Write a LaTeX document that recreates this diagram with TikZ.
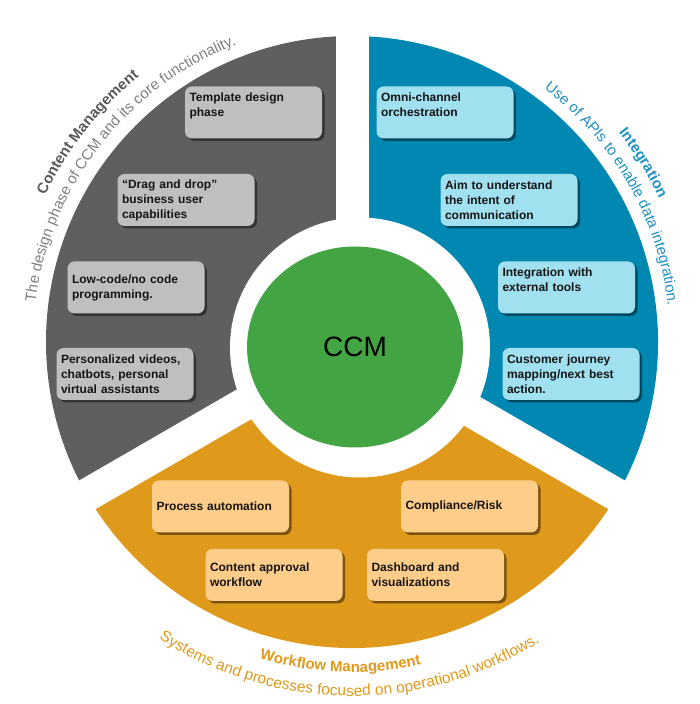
\documentclass[tikz,border=0pt]{standalone}
\usepackage{fontspec}
\setmainfont{Liberation Sans}
\usetikzlibrary{shapes.geometric,shadows,decorations.text}
\definecolor{ringgray}{HTML}{5F5F5F}
\definecolor{ringblue}{HTML}{0087B2}
\definecolor{ringorange}{HTML}{E09A1B}
\definecolor{ccmgreen}{HTML}{43A444}
\definecolor{boxgray}{HTML}{BFBFBF}
\definecolor{boxblue}{HTML}{A0E0EF}
\definecolor{boxorange}{HTML}{FECD89}
\definecolor{boxtext}{HTML}{151515}
\definecolor{descgray}{HTML}{808080}
\definecolor{titlegray}{HTML}{595959}
\definecolor{textblue}{HTML}{1F92C2}
\definecolor{textorange}{HTML}{E09A1B}
\begin{document}
\begin{tikzpicture}[x=1pt,y=1pt,
  itembox/.style={rounded corners=7pt, minimum height=52pt, text width=128pt,
    inner xsep=4.5pt, inner ysep=0pt, align=left,
    font=\fontsize{12}{15}\selectfont\bfseries, text=boxtext,
    drop shadow={shadow xshift=2.5pt, shadow yshift=-2.5pt, fill=black, opacity=0.45}},
  graybox/.style={itembox, fill=boxgray},
  bluebox/.style={itembox, fill=boxblue},
  orangebox/.style={itembox, fill=boxorange},
  gapline/.style={white, line width=33pt},
  arctext/.style={decorate},
]
\fill[white] (0,0) rectangle (700,704);
\useasboundingbox (0,0) rectangle (700,704);
\coordinate (O) at (352,362);

% ring sectors
\begin{scope}[shift={(O)}]
  \fill[ringgray] (0,0) -- (90:306pt) arc[start angle=90,end angle=210,radius=306pt] -- cycle;
  \fill[ringblue] (0,0) -- (-30:306pt) arc[start angle=-30,end angle=90,radius=306pt] -- cycle;
  \fill[ringorange] (0,0) -- (210:306pt) arc[start angle=210,end angle=330,radius=306pt] -- cycle;
\end{scope}
\fill[white] (360,356.5) circle[radius=130pt];
\begin{scope}[shift={(O)}]
  \foreach \a in {90,210,330} \draw[gapline] (0,0) -- (\a:313pt);
\end{scope}

% centre
\node[ellipse, fill=ccmgreen, minimum width=216pt, minimum height=201pt, inner sep=0pt,
  font=\fontsize{28}{34}\selectfont, text=black] (ccm) at (355,357) {CCM};

% curved texts
\begin{scope}[shift={(O)}]
  \path[arctext, decoration={text along path, text align=center, text color=descgray,
    text={|\fontsize{15}{18}\selectfont|The design phase of CCM and its core functionality.}}]
    (202:319pt) arc[start angle=202, end angle=82, radius=319pt];
  \path[arctext, decoration={text along path, text align=center, text color=titlegray,
    text={|\fontsize{15}{18}\selectfont\bfseries|Content Management}}]
    (201.6:340pt) arc[start angle=201.6, end angle=81.6, radius=340pt];
  \path[arctext, decoration={text along path, text align=center, text color=textblue,
    text={|\fontsize{15}{18}\selectfont|Use of APIs to enable data integration.}}]
    (89.7:318pt) arc[start angle=89.7, end angle=-30.3, radius=318pt];
  \path[arctext, decoration={text along path, text align=center, text color=textblue,
    text={|\fontsize{15}{18}\selectfont\bfseries|Integration}}]
    (91.6:339pt) arc[start angle=91.6, end angle=-28.4, radius=339pt];
  \path[arctext, decoration={text along path, text align=center, text color=textorange,
    text={|\fontsize{15}{18}\selectfont\bfseries|Workflow Management}}]
    (197.9:330pt) arc[start angle=197.9, end angle=337.9, radius=330pt];
  \path[arctext, decoration={text along path, text align=center, text color=textorange,
    text={|\fontsize{15.5}{18}\selectfont|Systems and processes focused on operational workflows.}}]
    (199.5:354pt) arc[start angle=199.5, end angle=339.5, radius=354pt];
\end{scope}

% gray boxes
\node[graybox] (g1) at (253.5,591.5) {Template design\\phase\\\mbox{}};
\node[graybox] (g2) at (186,504) {“Drag and drop”\\business user\\capabilities};
\node[graybox] (g3) at (136,416.5) {Low-code/no code\\programming.};
\node[graybox] (g4) at (125,330) {Personalized videos,\\chatbots, personal\\virtual assistants};
% blue boxes
\node[bluebox] (b1) at (445,591.5) {Omni-channel\\orchestration\\\mbox{}};
\node[bluebox] (b2) at (509,504) {Aim to understand\\the intent of\\communication};
\node[bluebox] (b3) at (566.5,416.5) {Integration with\\external tools\\\mbox{}};
\node[bluebox] (b4) at (571,330) {Customer journey\\mapping/next best\\action.};
% orange boxes
\node[orangebox] (o1) at (220.5,197.5) {Process automation};
\node[orangebox] (o2) at (274,129) {Content approval\\workflow};
\node[orangebox] (o3) at (469.5,197.5) {Compliance/Risk};
\node[orangebox] (o4) at (435.5,129) {Dashboard and\\visualizations};
\end{tikzpicture}
\end{document}
